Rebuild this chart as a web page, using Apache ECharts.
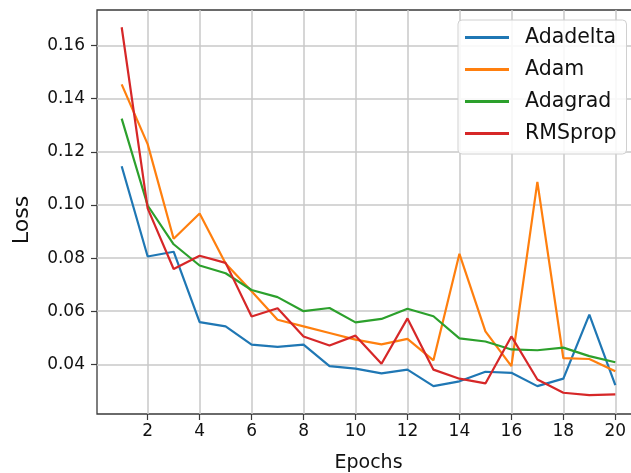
<!DOCTYPE html>
<html>
<head>
<meta charset="utf-8">
<script src="https://cdn.jsdelivr.net/npm/echarts@6/dist/echarts.min.js"></script>
<style>html,body{margin:0;padding:0;background:#fff;}#c{width:631px;height:473px;}</style>
</head>
<body>
<div id="c"></div>
<script>
const epochs = [1,2,3,4,5,6,7,8,9,10,11,12,13,14,15,16,17,18,19,20];
const adadelta = [0.1146, 0.0806, 0.0824, 0.0559, 0.0543, 0.0474, 0.0466, 0.0474, 0.0393, 0.0384, 0.0366, 0.0380, 0.0318, 0.0336, 0.0372, 0.0368, 0.0318, 0.0346, 0.0587, 0.0322];
const adam = [0.1454, 0.1229, 0.0873, 0.0968, 0.0780, 0.0675, 0.0568, 0.0543, 0.0518, 0.0493, 0.0475, 0.0496, 0.0415, 0.0816, 0.0524, 0.0393, 0.1087, 0.0423, 0.0420, 0.0374];
const adagrad = [0.1325, 0.0998, 0.0852, 0.0772, 0.0743, 0.0680, 0.0653, 0.0600, 0.0612, 0.0558, 0.0571, 0.0609, 0.0581, 0.0498, 0.0486, 0.0456, 0.0453, 0.0463, 0.0431, 0.0408];
const rmsprop = [0.1669, 0.0987, 0.0759, 0.0809, 0.0782, 0.0580, 0.0611, 0.0505, 0.0471, 0.0508, 0.0402, 0.0573, 0.0380, 0.0346, 0.0328, 0.0505, 0.0343, 0.0293, 0.0284, 0.0287];
const xTicks = [2,4,6,8,10,12,14,16,18,20];
const yTicks = [0.04,0.06,0.08,0.10,0.12,0.14,0.16];
const seriesNames = ['Adadelta','Adam','Adagrad','RMSprop'];
const colors = ['#1f77b4','#ff7f0e','#2ca02c','#d62728'];

const font = 'DejaVu Sans';
const pair = (ys) => epochs.map((x,i)=>[x, ys[i]]);
const allData = [adadelta, adam, adagrad, rmsprop];

const chart = echarts.init(document.getElementById('c'), null, {renderer:'canvas'});
chart.setOption({
  animation: false,
  backgroundColor: '#fff',
  color: colors,
  grid: {left: 97, width: 543, top: 10, bottom: 59, outerBoundsMode: 'none', containLabel: false,
    show: true, borderColor: '#3a3a3a', borderWidth: 1.3, backgroundColor: 'transparent'},
  legend: {
    orient: 'vertical', left: 458, top: 20,
    data: seriesNames,
    icon: 'rect', itemWidth: 44, itemHeight: 3, itemGap: 11,
    padding: [7, 10, 10, 7],
    borderColor: '#d0d0d0', borderWidth: 1, borderRadius: 4,
    backgroundColor: 'rgba(255,255,255,0.85)',
    textStyle: {fontFamily: font, fontSize: 20.5, color: '#111', lineHeight: 20, padding: [0,0,0,11]}
  },
  xAxis: {
    type: 'value', min: 0.05, max: 20.95,
    name: 'Epochs', nameLocation: 'middle', nameGap: 40,
    nameTextStyle: {fontFamily: font, fontSize: 19, color: '#111'},
    axisLine: {show: false},
    axisTick: {show: true, length: 6, customValues: xTicks, lineStyle: {color: '#3a3a3a', width: 1.2}},
    axisLabel: {customValues: xTicks, fontFamily: font, fontSize: 17, color: '#111', margin: 9},
    splitLine: {show: true, lineStyle: {color: '#c8c8c8', width: 1.5}}
  },
  yAxis: {
    type: 'value', min: 0.0213, max: 0.1734,
    name: 'Loss', nameLocation: 'middle', nameGap: 64, nameRotate: 90,
    nameTextStyle: {fontFamily: font, fontSize: 22, color: '#111', padding: [0, 16, 0, 0]},
    axisLine: {show: false},
    axisTick: {show: true, length: 6, customValues: yTicks, lineStyle: {color: '#3a3a3a', width: 1.2}},
    axisLabel: {customValues: yTicks, fontFamily: font, fontSize: 17, color: '#111', margin: 12,
      formatter: (v) => v.toFixed(2)},
    splitLine: {show: true, lineStyle: {color: '#c8c8c8', width: 1.5}}
  },
  series: seriesNames.map((n, i) => ({
    name: n, type: 'line', data: pair(allData[i]),
    showSymbol: false, symbol: 'none',
    lineStyle: {width: 2.2, color: colors[i]},
    itemStyle: {color: colors[i]}
  }))
});
</script>
</body>
</html>
